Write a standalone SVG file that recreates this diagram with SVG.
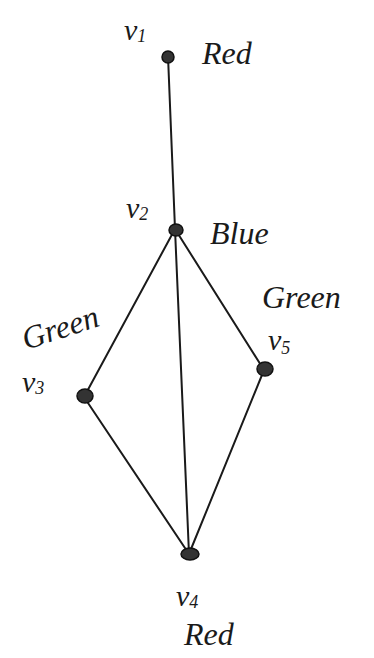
<svg xmlns="http://www.w3.org/2000/svg" width="374" height="658" viewBox="0 0 374 658">
<style>
.e{stroke:#1a1a1a;stroke-width:2;fill:none;stroke-linecap:round}
.n{fill:#333;stroke:#111;stroke-width:1.5}
.t{font-family:"Liberation Serif",serif;font-style:italic;fill:#1a1a1a;font-size:32px}
.v{font-size:30px}
.s{font-size:18px}
</style>
<rect width="374" height="658" fill="#fff"/>
<g id="edges">
<line class="e" x1="168" y1="56" x2="175" y2="229"/>
<line class="e" x1="175" y1="229" x2="84" y2="397"/>
<line class="e" x1="175" y1="229" x2="189" y2="554"/>
<line class="e" x1="175" y1="229" x2="264" y2="370"/>
<line class="e" x1="84" y1="397" x2="189" y2="554"/>
<line class="e" x1="264" y1="370" x2="189" y2="554"/>
</g>
<g id="v1">
<ellipse class="n" cx="168" cy="57" rx="6" ry="6"/>
<text class="t v" x="124" y="40">v<tspan class="s" dy="2">1</tspan></text>
<text class="t" x="202" y="64">Red</text>
</g>
<g id="v2">
<ellipse class="n" cx="176" cy="230" rx="7" ry="6"/>
<text class="t v" x="126" y="218">v<tspan class="s" dy="2">2</tspan></text>
<text class="t" x="210" y="244">Blue</text>
</g>
<g id="v3">
<ellipse class="n" cx="85" cy="396" rx="8" ry="7"/>
<text class="t" x="26" y="350" transform="rotate(-18 26 350)">Green</text>
<text class="t v" x="22" y="392">v<tspan class="s" dy="2">3</tspan></text>
</g>
<g id="v5">
<ellipse class="n" cx="265" cy="369" rx="8" ry="7"/>
<text class="t" x="262" y="308">Green</text>
<text class="t v" x="268" y="350">v<tspan class="s" dy="4">5</tspan></text>
</g>
<g id="v4">
<ellipse class="n" cx="190" cy="554" rx="9" ry="6"/>
<text class="t v" x="176" y="606">v<tspan class="s" dy="2">4</tspan></text>
<text class="t" x="184" y="645">Red</text>
</g>
</svg>
